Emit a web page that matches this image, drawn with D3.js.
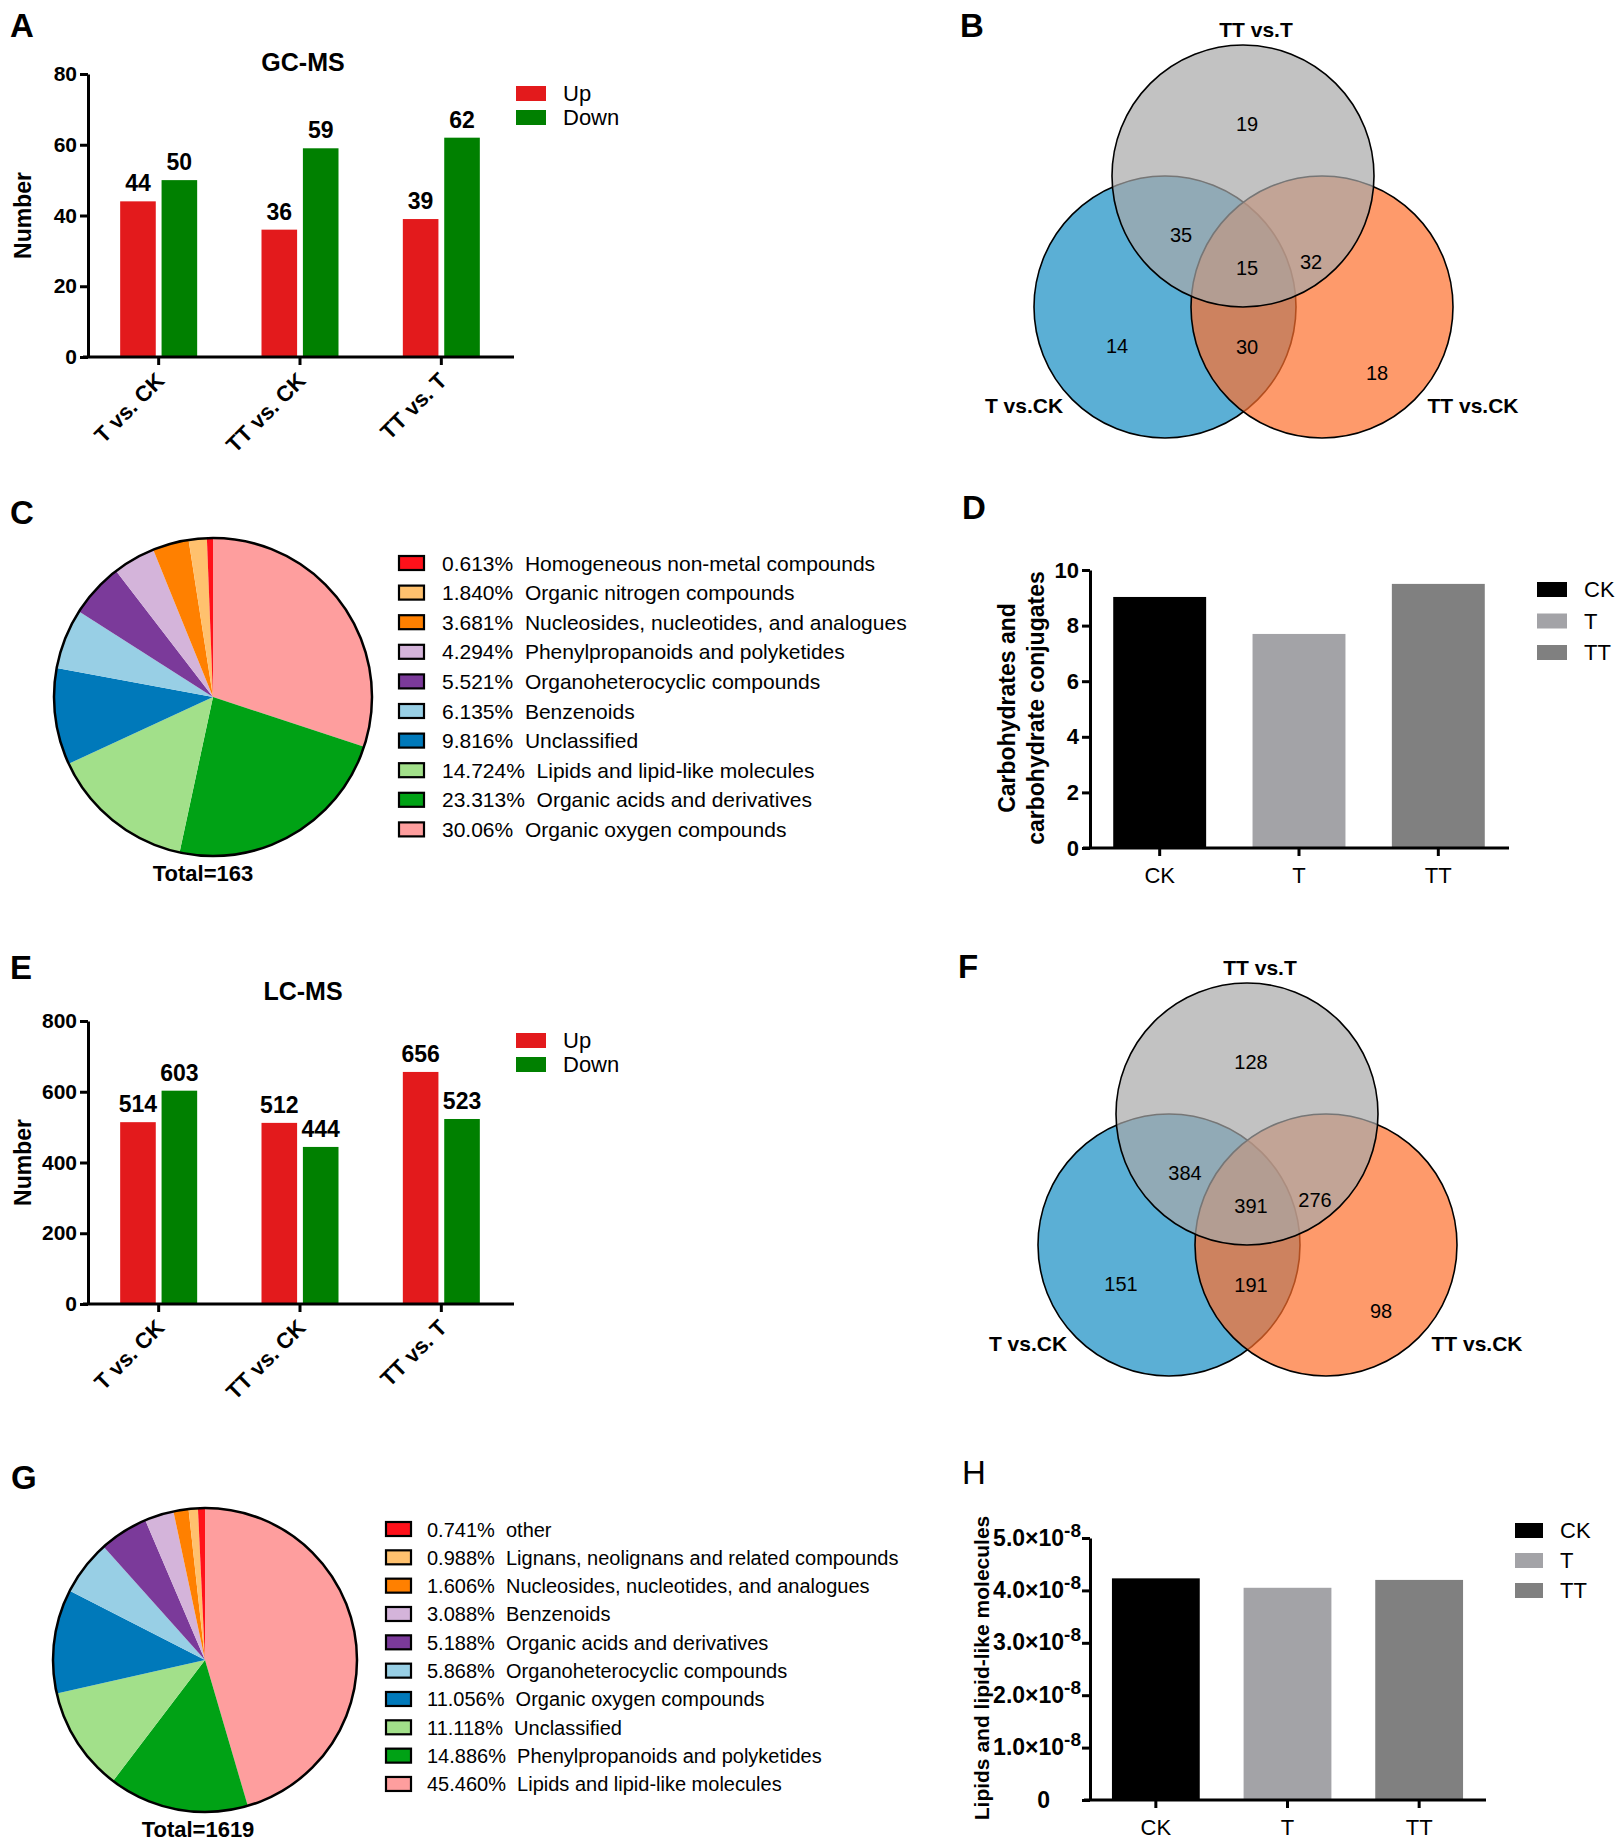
<!DOCTYPE html>
<html>
<head>
<meta charset="utf-8">
<script src="https://cdn.jsdelivr.net/npm/d3@7"></script>
<style>
body { margin: 0; background: #fff; }
svg { display: block; font-family: "Liberation Sans", Arial, Helvetica, sans-serif; }
</style>
</head>
<body>
<svg id="fig" width="1624" height="1847"></svg>
<script>
// ---- data ----
var comparisons = ["T vs. CK", "TT vs. CK", "TT vs. T"]
var gcUp = [44, 36, 39]
var gcDown = [50, 59, 62]
var lcUp = [514, 512, 656]
var lcDown = [603, 444, 523]
var gcTicks = [0, 20, 40, 60, 80]
var lcTicks = [0, 200, 400, 600, 800]

var vennSets = ["TT vs.T", "T vs.CK", "TT vs.CK"]
// regions: top only, top&left, all, top&right, left only, left&right, right only
var vennGC = [19, 35, 15, 32, 14, 30, 18]
var vennLC = [128, 384, 391, 276, 151, 191, 98]

var gcClassNames = ["Homogeneous non-metal compounds", "Organic nitrogen compounds",
    "Nucleosides, nucleotides, and analogues", "Phenylpropanoids and polyketides",
    "Organoheterocyclic compounds", "Benzenoids", "Unclassified",
    "Lipids and lipid-like molecules", "Organic acids and derivatives", "Organic oxygen compounds"]
var gcClassPct = ["0.613", "1.840", "3.681", "4.294", "5.521", "6.135", "9.816", "14.724", "23.313", "30.06"]

var lcClassNames = ["other", "Lignans, neolignans and related compounds",
    "Nucleosides, nucleotides, and analogues", "Benzenoids", "Organic acids and derivatives",
    "Organoheterocyclic compounds", "Organic oxygen compounds", "Unclassified",
    "Phenylpropanoids and polyketides", "Lipids and lipid-like molecules"]
var lcClassPct = ["0.741", "0.988", "1.606", "3.088", "5.188", "5.868", "11.056", "11.118", "14.886", "45.460"]

var pieColors = ["#ff111a", "#ffc16e", "#ff8000", "#d4b4da", "#7b3a9a",
    "#98cfe5", "#0079ba", "#a2e08a", "#00a215", "#fe9e9e"]

var groups = ["CK", "T", "TT"]
var carbValues = [9.03, 7.70, 9.50]
var carbTicks = [0, 2, 4, 6, 8, 10]
var lipidValues = [4.23e-8, 4.05e-8, 4.20e-8]
var lipidTicks = [0, 1e-8, 2e-8, 3e-8, 4e-8, 5e-8]
var groupColors = ["#000000", "#a3a3a7", "#808080"]

var svg = d3.select("#fig")

function panelLetter(txt, x, y, weight)
{
    svg.append("text")
        .attr("x", x).attr("y", y)
        .attr("font-size", 33)
        .attr("font-weight", weight || "bold")
        .text(txt)
}

function styleAxis(g, fontSize)
{
    g.select(".domain").attr("stroke", "#000").attr("stroke-width", 3)
    g.selectAll(".tick line").attr("stroke", "#000").attr("stroke-width", 3)
    g.selectAll(".tick text")
        .attr("fill", "#000")
        .attr("font-size", fontSize)
        .attr("font-weight", "bold")
        .attr("font-family", null)
}

// grouped up/down bar chart (A, E)
function upDownChart(cfg)
{
    var g = svg.append("g")
    var x = d3.scaleBand().domain(comparisons).range([88, 512])
    var xs = d3.scaleBand().domain(["Up", "Down"]).range([-38.5, 38.5]).paddingInner(0.14)
    var y = d3.scaleLinear().domain([0, cfg.max]).range([cfg.base, cfg.top])
    var colors = {Up: "#e31a1c", Down: "#008000"}

    var rows = comparisons.map(function(c, i){ return {cat: c, Up: cfg.up[i], Down: cfg.down[i]} })
    var flat = []
    rows.forEach(function(r){
        flat.push({cat: r.cat, key: "Up", v: r.Up})
        flat.push({cat: r.cat, key: "Down", v: r.Down})
    })

    g.selectAll("rect.bar").data(flat).enter().append("rect")
        .attr("class", "bar")
        .attr("x", function(d){ return x(d.cat) + x.bandwidth()/2 + xs(d.key) })
        .attr("width", xs.bandwidth())
        .attr("y", function(d){ return y(d.v) })
        .attr("height", function(d){ return y(0) - y(d.v) })
        .attr("fill", function(d){ return colors[d.key] })

    g.selectAll("text.val").data(flat).enter().append("text")
        .attr("class", "val")
        .attr("x", function(d){ return x(d.cat) + x.bandwidth()/2 + xs(d.key) + xs.bandwidth()/2 })
        .attr("y", function(d){ return y(d.v) - 10 })
        .attr("text-anchor", "middle")
        .attr("font-size", 23).attr("font-weight", "bold")
        .text(function(d){ return d.v })

    var yAxis = g.append("g")
        .attr("transform", "translate(88,0)")
        .call(d3.axisLeft(y).tickValues(cfg.ticks).tickSize(8).tickSizeOuter(0).tickPadding(3))
    styleAxis(yAxis, 21)

    g.append("line")
        .attr("x1", 83).attr("x2", 514)
        .attr("y1", cfg.base).attr("y2", cfg.base)
        .attr("stroke", "#000").attr("stroke-width", 3)

    g.selectAll("line.xt").data(comparisons).enter().append("line")
        .attr("class", "xt")
        .attr("x1", function(d){ return x(d) + x.bandwidth()/2 })
        .attr("x2", function(d){ return x(d) + x.bandwidth()/2 })
        .attr("y1", cfg.base).attr("y2", cfg.base + 8)
        .attr("stroke", "#000").attr("stroke-width", 3)

    g.selectAll("text.xl").data(comparisons).enter().append("text")
        .attr("class", "xl")
        .attr("transform", function(d){
            return "translate(" + (x(d) + x.bandwidth()/2 + 7) + "," + (cfg.base + 25) + ") rotate(-45)"
        })
        .attr("text-anchor", "end")
        .attr("font-size", 22).attr("font-weight", "bold")
        .text(function(d){ return d })

    g.append("text")
        .attr("transform", "translate(31," + ((cfg.top + cfg.base)/2) + ") rotate(-90)")
        .attr("text-anchor", "middle")
        .attr("font-size", 23).attr("font-weight", "bold")
        .text("Number")

    g.append("text")
        .attr("x", 303).attr("y", cfg.titleY)
        .attr("text-anchor", "middle")
        .attr("font-size", 25).attr("font-weight", "bold")
        .text(cfg.title)

    var leg = g.selectAll("g.leg").data(["Up", "Down"]).enter().append("g")
        .attr("transform", function(d, i){ return "translate(516," + (cfg.legendY + i*24) + ")" })
    leg.append("rect")
        .attr("width", 30).attr("height", 15)
        .attr("fill", function(d){ return colors[d] })
    leg.append("text")
        .attr("x", 47).attr("y", 15)
        .attr("font-size", 22)
        .text(function(d){ return d })
}

// three-set venn (B, F)
function venn(cfg)
{
    var g = svg.append("g")
    var r = 131
    var circles = [
        {cx: cfg.tx - 78, cy: cfg.ty + 131, fill: "rgb(21,141,195)"},
        {cx: cfg.tx + 79, cy: cfg.ty + 131, fill: "rgb(254,111,44)"},
        {cx: cfg.tx, cy: cfg.ty, fill: "rgb(168,168,168)"}
    ]
    g.selectAll("circle").data(circles).enter().append("circle")
        .attr("cx", function(d){ return d.cx })
        .attr("cy", function(d){ return d.cy })
        .attr("r", r)
        .attr("fill", function(d){ return d.fill })
        .attr("fill-opacity", 0.7)
        .attr("stroke", "#000")
        .attr("stroke-width", 1.6)

    var spots = [[4, -52], [-62, 59], [4, 92], [68, 86], [-126, 170], [4, 171], [134, 197]]
    g.selectAll("text.num").data(cfg.counts).enter().append("text")
        .attr("class", "num")
        .attr("x", function(d, i){ return cfg.tx + spots[i][0] })
        .attr("y", function(d, i){ return cfg.ty + spots[i][1] })
        .attr("dy", "0.35em")
        .attr("text-anchor", "middle")
        .attr("font-size", 20)
        .text(function(d){ return d })

    var labelSpots = [[13, -146], [-219, 230], [230, 230]]
    g.selectAll("text.set").data(vennSets).enter().append("text")
        .attr("class", "set")
        .attr("x", function(d, i){ return cfg.tx + labelSpots[i][0] })
        .attr("y", function(d, i){ return cfg.ty + labelSpots[i][1] })
        .attr("dy", "0.35em")
        .attr("text-anchor", "middle")
        .attr("font-size", 21).attr("font-weight", "bold")
        .text(function(d){ return d })
}

// class composition pie (C, G)
function classPie(cfg)
{
    var g = svg.append("g")
    var data = cfg.names.map(function(n, i){ return {name: n, pct: cfg.pct[i], color: pieColors[i]} })
    var pie = d3.pie().sort(null).value(function(d){ return +d.pct })
    var arc = d3.arc().innerRadius(0).outerRadius(cfg.r)

    var pg = g.append("g").attr("transform", "translate(" + cfg.cx + "," + cfg.cy + ")")
    pg.selectAll("path").data(pie(data.slice().reverse())).enter().append("path")
        .attr("d", arc)
        .attr("fill", function(d){ return d.data.color })
    pg.append("circle")
        .attr("r", cfg.r)
        .attr("fill", "none")
        .attr("stroke", "#000")
        .attr("stroke-width", 2.5)

    g.append("text")
        .attr("x", cfg.totalX).attr("y", cfg.totalY)
        .attr("text-anchor", "middle")
        .attr("font-size", 22).attr("font-weight", "bold")
        .text(cfg.total)

    var leg = g.selectAll("g.leg").data(data).enter().append("g")
        .attr("transform", function(d, i){ return "translate(" + cfg.legendX + "," + (cfg.legendY + i*cfg.step) + ")" })
    leg.append("rect")
        .attr("x", 0).attr("y", -7)
        .attr("width", 25).attr("height", 14)
        .attr("fill", function(d){ return d.color })
        .attr("stroke", "#000").attr("stroke-width", 2.2)
    leg.append("text")
        .attr("x", cfg.textDx).attr("y", 7.5)
        .attr("font-size", cfg.fontSize)
        .style("white-space", "pre")
        .text(function(d){ return d.pct + "%  " + d.name })
}

// three-group bar (D, H)
function groupBar(cfg)
{
    var g = svg.append("g")
    var x = d3.scaleBand().domain(groups).range([1090, cfg.xEnd]).paddingInner(0.333).paddingOuter(0.1667)
    var y = d3.scaleLinear().domain([0, cfg.max]).range([cfg.base, cfg.top])

    g.selectAll("rect.bar").data(cfg.values).enter().append("rect")
        .attr("class", "bar")
        .attr("x", function(d, i){ return x(groups[i]) })
        .attr("width", x.bandwidth())
        .attr("y", function(d){ return y(d) })
        .attr("height", function(d){ return y(0) - y(d) })
        .attr("fill", function(d, i){ return groupColors[i] })

    var yAxis = g.append("g")
        .attr("transform", "translate(1090,0)")
        .call(d3.axisLeft(y).tickValues(cfg.ticks).tickSize(8).tickSizeOuter(0).tickPadding(3)
            .tickFormat(cfg.sci ? function(){ return "" } : d3.format("d")))
    styleAxis(yAxis, 22)

    if(cfg.sci)
    {
        yAxis.selectAll(".tick").each(function(v){
            var t = d3.select(this).append("text")
                .attr("fill", "#000")
                .attr("font-size", 23).attr("font-weight", "bold")
                .attr("text-anchor", "end")
                .attr("y", 7)
            if(v === 0)
            {
                t.attr("x", -40).text("0")
            }
            else
            {
                t.attr("x", -9)
                t.append("tspan").text(d3.format(".1f")(v / 1e-8) + "×10")
                t.append("tspan").attr("dy", -9).attr("font-size", 19).text("-8")
            }
        })
    }

    g.append("line")
        .attr("x1", cfg.xLineStart).attr("x2", cfg.xEnd + 1)
        .attr("y1", cfg.base).attr("y2", cfg.base)
        .attr("stroke", "#000").attr("stroke-width", 3)

    g.selectAll("line.xt").data(groups).enter().append("line")
        .attr("class", "xt")
        .attr("x1", function(d){ return x(d) + x.bandwidth()/2 })
        .attr("x2", function(d){ return x(d) + x.bandwidth()/2 })
        .attr("y1", cfg.base).attr("y2", cfg.base + 8)
        .attr("stroke", "#000").attr("stroke-width", 3)

    g.selectAll("text.xl").data(groups).enter().append("text")
        .attr("class", "xl")
        .attr("x", function(d){ return x(d) + x.bandwidth()/2 })
        .attr("y", cfg.base + 35)
        .attr("text-anchor", "middle")
        .attr("font-size", 22)
        .text(function(d){ return d })

    cfg.yLabel.forEach(function(line, i){
        g.append("text")
            .attr("transform", "translate(" + (cfg.yLabelX + i*29) + "," + cfg.yLabelY + ") rotate(-90)")
            .attr("text-anchor", "middle")
            .attr("font-size", cfg.yLabelSize).attr("font-weight", "bold")
            .text(line)
    })

    var leg = g.selectAll("g.leg").data(groups).enter().append("g")
        .attr("transform", function(d, i){ return "translate(" + cfg.legendX + "," + (cfg.legendY + i*cfg.legendStep) + ")" })
    leg.append("rect")
        .attr("width", cfg.legendW).attr("height", 15)
        .attr("fill", function(d, i){ return groupColors[i] })
    leg.append("text")
        .attr("x", cfg.legendW + 17).attr("y", 15)
        .attr("font-size", 22)
        .text(function(d){ return d })
}

// ---- panels ----
panelLetter("A", 10, 37)
upDownChart({up: gcUp, down: gcDown, max: 80, ticks: gcTicks, top: 74, base: 357,
    title: "GC-MS", titleY: 71, legendY: 86})

panelLetter("B", 960, 37)
venn({tx: 1243, ty: 176, counts: vennGC})

panelLetter("C", 10, 524)
classPie({cx: 213, cy: 697, r: 159, names: gcClassNames, pct: gcClassPct,
    total: "Total=163", totalX: 203, totalY: 881,
    legendX: 399, legendY: 563, step: 29.6, textDx: 43, fontSize: 21})

panelLetter("D", 962, 519)
groupBar({values: carbValues, max: 10, ticks: carbTicks, top: 570, base: 848, xEnd: 1508,
    xLineStart: 1083, sci: false,
    yLabel: ["Carbohydrates and", "carbohydrate conjugates"], yLabelX: 1015, yLabelY: 708, yLabelSize: 23,
    legendX: 1537, legendY: 582, legendStep: 31.5, legendW: 30})

panelLetter("E", 10, 979)
upDownChart({up: lcUp, down: lcDown, max: 800, ticks: lcTicks, top: 1021, base: 1304,
    title: "LC-MS", titleY: 1000, legendY: 1033})

panelLetter("F", 958, 978)
venn({tx: 1247, ty: 1114, counts: vennLC})

panelLetter("G", 11, 1489)
classPie({cx: 205, cy: 1660, r: 152, names: lcClassNames, pct: lcClassPct,
    total: "Total=1619", totalX: 198, totalY: 1837,
    legendX: 386, legendY: 1529, step: 28.33, textDx: 41, fontSize: 20})

panelLetter("H", 962, 1484, "normal")
groupBar({values: lipidValues, max: 5e-8, ticks: lipidTicks, top: 1538, base: 1800, xEnd: 1485,
    xLineStart: 1084, sci: true,
    yLabel: ["Lipids and lipid-like molecules"], yLabelX: 989, yLabelY: 1668, yLabelSize: 21,
    legendX: 1515, legendY: 1523, legendStep: 30, legendW: 28})
</script>
</body>
</html>
